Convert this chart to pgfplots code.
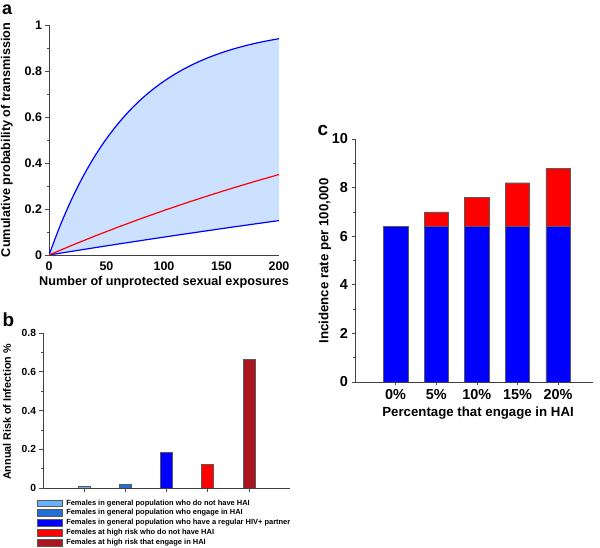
\documentclass[border=0pt]{standalone}
\usepackage{fontspec}
\setmainfont{Liberation Sans}
\usepackage{pgfplots}
\pgfplotsset{compat=1.18}
\usepgfplotslibrary{fillbetween}
\definecolor{bandblue}{RGB}{204,224,255}
\definecolor{lblue}{RGB}{102,178,255}
\definecolor{mblue}{RGB}{31,111,214}
\definecolor{pblue}{RGB}{0,0,255}
\definecolor{pred}{RGB}{255,0,0}
\definecolor{dred}{RGB}{170,22,32}
\definecolor{edgegray}{RGB}{90,90,90}
\pgfplotsset{
  common/.style={
    scale only axis,
    axis x line*=bottom, axis y line*=left,
    axis line style={-, black!75, line width=0.8pt},
    tick align=outside,
    major tick length=3.5bp, minor tick length=2bp,
    tick style={black!70, line width=0.6pt},
    /pgf/number format/assume math mode=true,
  }
}
\begin{document}
\begin{tikzpicture}
\path (0bp,0bp) rectangle (600bp,548bp);
% ---------------- panel a ----------------
\begin{axis}[common,
  at={(49bp,293bp)}, anchor=south west,
  width=230bp, height=230bp,
  xmin=0, xmax=200, ymin=0, ymax=1,
  xtick={0,50,100,150,200}, ytick={0,0.2,0.4,0.6,0.8,1},
  x tick style={draw=none},
  minor y tick num=1,
  tick label style={font=\fontsize{12.5}{14}\selectfont\bfseries},
  yticklabel style={/pgf/number format/fixed},
  xlabel={Number of unprotected sexual exposures},
  ylabel={Cumulative probability of transmission},
  label style={font=\fontsize{12.7}{14}\selectfont\bfseries},
  xlabel style={at={(axis description cs:0.5,-0.117)}, anchor=center},
  ylabel style={at={(axis description cs:-0.183,0.5)}, anchor=center},
]
\addplot[name path=upper, draw=none] coordinates {
(0,0) (10,0.1315) (20,0.2457) (30,0.3449) (40,0.4311) (50,0.5059) (60,0.5708)
(70,0.6273) (80,0.6763) (90,0.7189) (100,0.7558) (110,0.7879) (120,0.8158)
(130,0.8400) (140,0.8611) (150,0.8793) (160,0.8952) (170,0.9090) (180,0.9210)
(190,0.9314) (200,0.9404)};
\addplot[name path=lower, draw=none] coordinates {
(0,0) (20,0.01608) (40,0.03189) (60,0.04746) (80,0.06277) (100,0.07784)
(120,0.09267) (140,0.10725) (160,0.12160) (180,0.13572) (200,0.14961)};
\addplot[bandblue] fill between[of=upper and lower];
\addplot[pblue, line width=1.2pt, smooth] coordinates {
(0,0) (10,0.1315) (20,0.2457) (30,0.3449) (40,0.4311) (50,0.5059) (60,0.5708)
(70,0.6273) (80,0.6763) (90,0.7189) (100,0.7558) (110,0.7879) (120,0.8158)
(130,0.8400) (140,0.8611) (150,0.8793) (160,0.8952) (170,0.9090) (180,0.9210)
(190,0.9314) (200,0.9404)};
\addplot[pblue, line width=1.2pt] coordinates {
(0,0) (20,0.01608) (40,0.03189) (60,0.04746) (80,0.06277) (100,0.07784)
(120,0.09267) (140,0.10725) (160,0.12160) (180,0.13572) (200,0.14961)};
\addplot[pred, line width=1.2pt] coordinates {
(0,0) (20,0.04213) (40,0.08249) (60,0.12115) (80,0.15817) (100,0.19363)
(120,0.22762) (140,0.26016) (160,0.29136) (180,0.32125) (200,0.34978)};
\end{axis}
\node[font=\fontsize{18}{20}\selectfont\bfseries, anchor=north] at (7bp,547bp) {a};
% ---------------- panel b ----------------
\begin{axis}[common,
  at={(43bp,60bp)}, anchor=south west,
  width=247bp, height=155bp,
  xmin=0, xmax=6, ymin=0, ymax=0.8,
  ybar, bar width=12bp, bar shift=0pt,
  xtick={1,2,3,4,5}, xticklabels={},
  ytick={0,0.2,0.4,0.6,0.8}, minor y tick num=1,
  tick label style={font=\fontsize{10.3}{12}\selectfont\bfseries},
  yticklabel style={/pgf/number format/fixed},
  ylabel={Annual Risk of Infection \%},
  label style={font=\fontsize{10.8}{12}\selectfont\bfseries},
  ylabel style={at={(axis description cs:-0.146,0.49)}, anchor=center},
  legend style={at={(-0.026,-0.07)}, anchor=north west, draw=none, fill=none,
    font=\fontsize{7.5}{8}\selectfont\bfseries, inner sep=0pt, row sep=1.7bp,
    nodes={inner sep=0.6bp, anchor=west}},
  legend cell align=left,
  legend image code/.code={\draw[#1, draw=edgegray, line width=0.4pt] (0bp,-3.4bp) rectangle (25bp,3.4bp); \path (28.5bp,0bp);},
]
\addplot[fill=lblue, draw=edgegray] coordinates {(1,0.010)};
\addplot[fill=mblue, draw=edgegray] coordinates {(2,0.020)};
\addplot[fill=pblue, draw=edgegray] coordinates {(3,0.185)};
\addplot[fill=pred, draw=edgegray] coordinates {(4,0.122)};
\addplot[fill=dred, draw=edgegray] coordinates {(5,0.663)};
\legend{Females in general population who do not have HAI,
Females in general population who engage in HAI,
Females in general population who have a regular HIV+ partner,
Females at high risk who do not have HAI,
Females at high risk that engage in HAI}
\end{axis}
\node[font=\fontsize{19}{20}\selectfont\bfseries] at (8.5bp,228bp) {b};
% ---------------- panel c ----------------
\begin{axis}[common,
  at={(355bp,166bp)}, anchor=south west,
  width=238bp, height=243bp,
  xmin=0, xmax=5.86, ymin=0, ymax=10,
  ybar stacked, bar width=24.3bp,
  xtick={1,2,3,4,5}, xticklabels={0\%,5\%,10\%,15\%,20\%},
  ytick={0,2,4,6,8,10}, minor y tick num=1,
  tick label style={font=\fontsize{14.5}{16}\selectfont\bfseries},
  xlabel={Percentage that engage in HAI},
  ylabel={Incidence rate per 100,000},
  label style={font=\fontsize{13.3}{15}\selectfont\bfseries},
  xlabel style={at={(axis description cs:0.517,-0.128)}, anchor=center},
  ylabel style={at={(axis description cs:-0.126,0.498)}, anchor=center},
]
\addplot[fill=pblue, draw=edgegray] coordinates {(1,6.4) (2,6.4) (3,6.4) (4,6.4) (5,6.4)};
\addplot[fill=pred, draw=edgegray] coordinates {(1,0) (2,0.6) (3,1.2) (4,1.8) (5,2.4)};
\end{axis}
\node[font=\fontsize{19}{20}\selectfont\bfseries] at (323bp,417bp) {c};
\pgfresetboundingbox
\path[use as bounding box] (0bp,0bp) rectangle (600bp,548bp);
\end{tikzpicture}
\end{document}
